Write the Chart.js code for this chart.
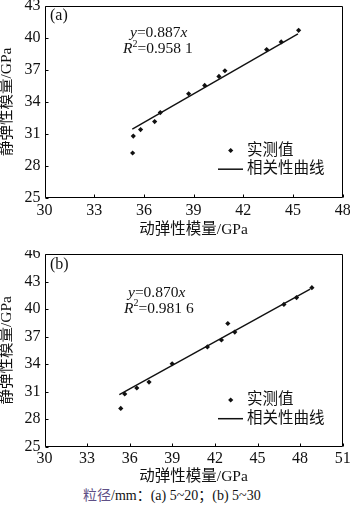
<!DOCTYPE html>
<html><head><meta charset="utf-8">
<script src="https://cdn.jsdelivr.net/npm/chart.js@4"></script>
<style>
html,body{margin:0;padding:0;background:#fff;}
#wrap{position:relative;width:350px;height:508px;overflow:hidden;background:#fff;}
#ca{position:absolute;left:0;top:0;}
#cb{position:absolute;left:0;top:250px;}
#cap{position:absolute;left:83px;top:486px;font:14px "Liberation Serif","Noto Sans CJK SC";line-height:20px;color:#111;white-space:nowrap;}
#cap span{color:#5e4f86;}
</style></head>
<body>
<div id="wrap">
<canvas id="ca" width="350" height="250"></canvas>
<canvas id="cb" width="350" height="236"></canvas>
<div id="cap"><span>粒径</span>/mm：(a) 5~20；(b) 5~30</div>
</div>
<script>
// ---- data (a) ----
const dynA  = [35.32, 35.36, 35.80, 36.65, 36.99, 38.70, 39.67, 40.53, 40.89, 43.41, 44.29, 45.34];
const statA = [29.21, 30.79, 31.40, 32.15, 32.99, 34.75, 35.53, 36.37, 36.90, 38.88, 39.59, 40.68];
const fitAx = [35.3, 45.3];
const fitAy = [31.45, 40.35];
const xTicksA = [30, 33, 36, 39, 42, 45, 48];
const yTicksA = [25, 28, 31, 34, 37, 40, 43];
// ---- data (b) ----
const dynB  = [35.37, 35.65, 36.50, 37.36, 38.99, 41.47, 42.46, 42.91, 43.40, 46.86, 47.75, 48.83];
const statB = [29.15, 30.73, 31.38, 32.03, 34.03, 35.86, 36.62, 38.42, 37.48, 40.50, 41.25, 42.33];
const fitBx = [35.27, 48.71];
const fitBy = [30.66, 42.16];
const xTicksB = [30, 33, 36, 39, 42, 45, 48, 51];
const yTicksB = [25, 28, 31, 34, 37, 40, 43, 46];

const FAM = '"Liberation Serif","Noto Sans CJK SC"';
const legendLabels = ['实测值', '相关性曲线'];

function runs(ctx, x, y, parts) {
  ctx.textBaseline = 'middle';
  ctx.textAlign = 'left';
  for (const p of parts) {
    ctx.font = p.f;
    ctx.fillText(p.t, x, y + (p.dy || 0));
    x += ctx.measureText(p.t).width;
  }
}

function makeChart(id, dx, dy, fx, fy, xt, yt, cfg) {
  const pts = dx.map((v, i) => ({x: v, y: dy[i]}));
  const fit = fx.map((v, i) => ({x: v, y: fy[i]}));
  const deco = {
    id: 'deco',
    afterDraw(chart) {
      const {ctx, chartArea: a, scales} = chart;
      ctx.save();
      ctx.setLineDash([]);
      ctx.globalAlpha = 1;
      ctx.strokeStyle = '#000';
      ctx.lineWidth = 1;
      const L = Math.round(a.left) + 0.5, R = Math.round(a.right) - 0.5;
      const T = Math.round(a.top) + 0.5, B = Math.round(a.bottom) - 0.5;
      ctx.beginPath();
      ctx.moveTo(L, T); ctx.lineTo(R, T); ctx.lineTo(R, B); ctx.lineTo(L, B); ctx.closePath();
      for (const v of xt) {
        const px = Math.round(scales.x.getPixelForValue(v)) + 0.5;
        ctx.moveTo(px, B); ctx.lineTo(px, B - 3);
      }
      for (const v of yt) {
        const py = Math.round(scales.y.getPixelForValue(v)) + 0.5;
        ctx.moveTo(L, py); ctx.lineTo(L + 3, py);
      }
      ctx.stroke();
      ctx.fillStyle = '#111';
      // panel label and equation
      runs(ctx, a.left + 5.5, cfg.labY, [{t: cfg.label, f: '16px ' + FAM}]);
      runs(ctx, cfg.eqX, cfg.eqY, [
        {t: 'y', f: 'italic 15.5px ' + FAM},
        {t: '=' + cfg.slope, f: '15.5px ' + FAM},
        {t: 'x', f: 'italic 15.5px ' + FAM}]);
      runs(ctx, cfg.rX, cfg.eqY + 16, [
        {t: 'R', f: 'italic 15.5px ' + FAM},
        {t: '2', f: '10px ' + FAM, dy: -5},
        {t: '=' + cfg.r2, f: '15.5px ' + FAM}]);
      // legend
      const ly = cfg.legY;
      ctx.beginPath();
      ctx.moveTo(230.7, ly - 2.6); ctx.lineTo(233.3, ly); ctx.lineTo(230.7, ly + 2.6); ctx.lineTo(228.1, ly);
      ctx.closePath(); ctx.fill();
      runs(ctx, 247, ly, [{t: legendLabels[0], f: '15.5px ' + FAM}]);
      ctx.beginPath();
      ctx.lineWidth = 1.5; ctx.strokeStyle = '#111';
      ctx.moveTo(218, ly + 18.7); ctx.lineTo(243, ly + 18.7); ctx.stroke();
      runs(ctx, 247, ly + 18.7, [{t: legendLabels[1], f: '15.5px ' + FAM}]);
      ctx.restore();
    }
  };
  const tickFont = {family: FAM, size: 16};
  return new Chart(document.getElementById(id), {
    type: 'scatter',
    data: {datasets: [
      {data: pts, pointStyle: 'rectRot', pointRadius: 2.6, backgroundColor: '#111', borderWidth: 0, order: 1},
      {type: 'line', data: fit, borderColor: '#111', borderWidth: 1.4, pointRadius: 0, fill: false, order: 2}
    ]},
    options: {
      responsive: false, animation: false, devicePixelRatio: 1,
      layout: {padding: {left: 0, right: 7.3, top: cfg.padTop, bottom: 0}},
      plugins: {legend: {display: false}, tooltip: {enabled: false}},
      scales: {
        x: {type: 'linear', min: xt[0], max: xt[xt.length - 1],
            afterBuildTicks: s => { s.ticks = xt.map(v => ({value: v})); },
            afterFit: s => { s.height = cfg.xH; s.paddingLeft = 0; s.paddingRight = 0; },
            grid: {display: true, drawOnChartArea: false, drawTicks: false},
            border: {display: false},
            ticks: {color: '#111', font: tickFont, padding: 3, maxRotation: 0, autoSkip: false},
            title: {display: true, text: '动弹性模量/GPa', color: '#111', font: {family: FAM, size: 15.5},
                    padding: {top: 0, bottom: cfg.xTitlePad}}},
        y: {type: 'linear', min: yt[0], max: yt[yt.length - 1],
            afterBuildTicks: s => { s.ticks = yt.map(v => ({value: v})); },
            afterFit: s => { s.width = 44.5; s.paddingTop = 0; s.paddingBottom = 0; },
            grid: {display: true, drawOnChartArea: false, drawTicks: false},
            border: {display: false},
            ticks: {color: '#111', font: tickFont, padding: 4, autoSkip: false},
            title: {display: true, text: '静弹性模量/GPa', color: '#111', font: {family: FAM, size: 15.5},
                    padding: {top: -2.5, bottom: 0}}}
      }
    },
    plugins: [deco]
  });
}

makeChart('ca', dynA, statA, fitAx, fitAy, xTicksA, yTicksA,
  {padTop: 5.5, xH: 52, xTitlePad: 11, label: '(a)', labY: 16, slope: '0.887', r2: '0.958 1',
   eqX: 130, rX: 123, eqY: 33.3, legY: 150.5});
makeChart('cb', dynB, statB, fitBx, fitBy, xTicksB, yTicksB,
  {padTop: 3, xH: 39.5, xTitlePad: 0, label: '(b)', labY: 15, slope: '0.870', r2: '0.981 6',
   eqX: 128, rX: 124, eqY: 42.7, legY: 150});
</script>
</body></html>
